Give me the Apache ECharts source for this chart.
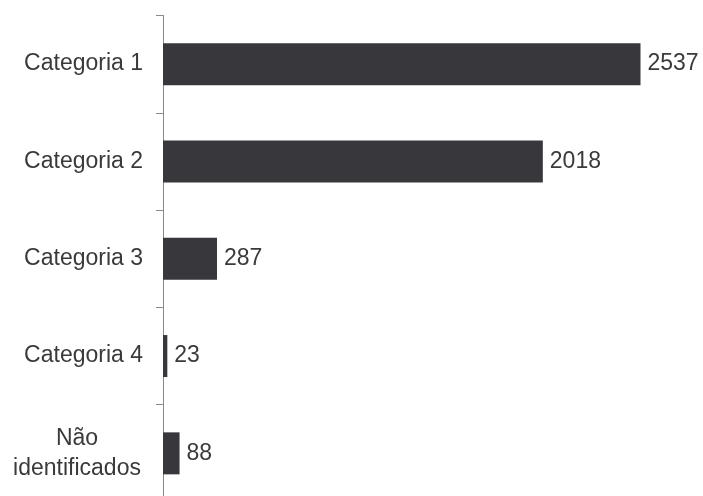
<!DOCTYPE html>
<html>
<head>
<meta charset="utf-8">
<script src="https://cdn.jsdelivr.net/npm/echarts@6/dist/echarts.min.js"></script>
<style>html,body{margin:0;padding:0;background:#fff;}#c{width:703px;height:496px;}</style>
</head>
<body>
<div id="c"></div>
<script>
var categories = ['Categoria 1', 'Categoria 2', 'Categoria 3', 'Categoria 4', 'Não\nidentificados'];
var values = [2537, 2018, 287, 23, 88];

var chart = echarts.init(document.getElementById('c'), null, {renderer: 'canvas'});
chart.setOption({
  animation: false,
  backgroundColor: '#ffffff',
  grid: {left: 163, top: 15.5, width: 527, height: 486.5, containLabel: false, outerBoundsMode: 'none'},
  xAxis: {
    type: 'value', min: 0, max: 2800, show: false
  },
  yAxis: {
    type: 'category', data: categories, inverse: true,
    axisLine: {show: true, lineStyle: {color: '#8a8a8a', width: 1}},
    axisTick: {show: true, length: 7, lineStyle: {color: '#8a8a8a', width: 1}},
    axisLabel: {
      margin: 20, color: '#3a3a3a', fontSize: 23, lineHeight: 30,
      fontFamily: 'Liberation Sans, Arial, sans-serif', align: 'right',
      formatter: function (v) {
        if (v.indexOf('\n') >= 0) {
          return v.split('\n').map(function (s) { return '{c|' + s + '}'; }).join('\n');
        }
        return v;
      },
      rich: {
        c: {width: 132, align: 'center', fontSize: 23, lineHeight: 30, color: '#3a3a3a',
            fontFamily: 'Liberation Sans, Arial, sans-serif'}
      }
    },
    splitLine: {show: false}
  },
  series: [{
    type: 'bar', data: values, barWidth: 42,
    itemStyle: {color: '#38373c'},
    label: {
      show: true, position: 'right', distance: 7, color: '#3a3a3a',
      fontSize: 23, fontFamily: 'Liberation Sans, Arial, sans-serif'
    }
  }]
});
</script>
</body>
</html>
